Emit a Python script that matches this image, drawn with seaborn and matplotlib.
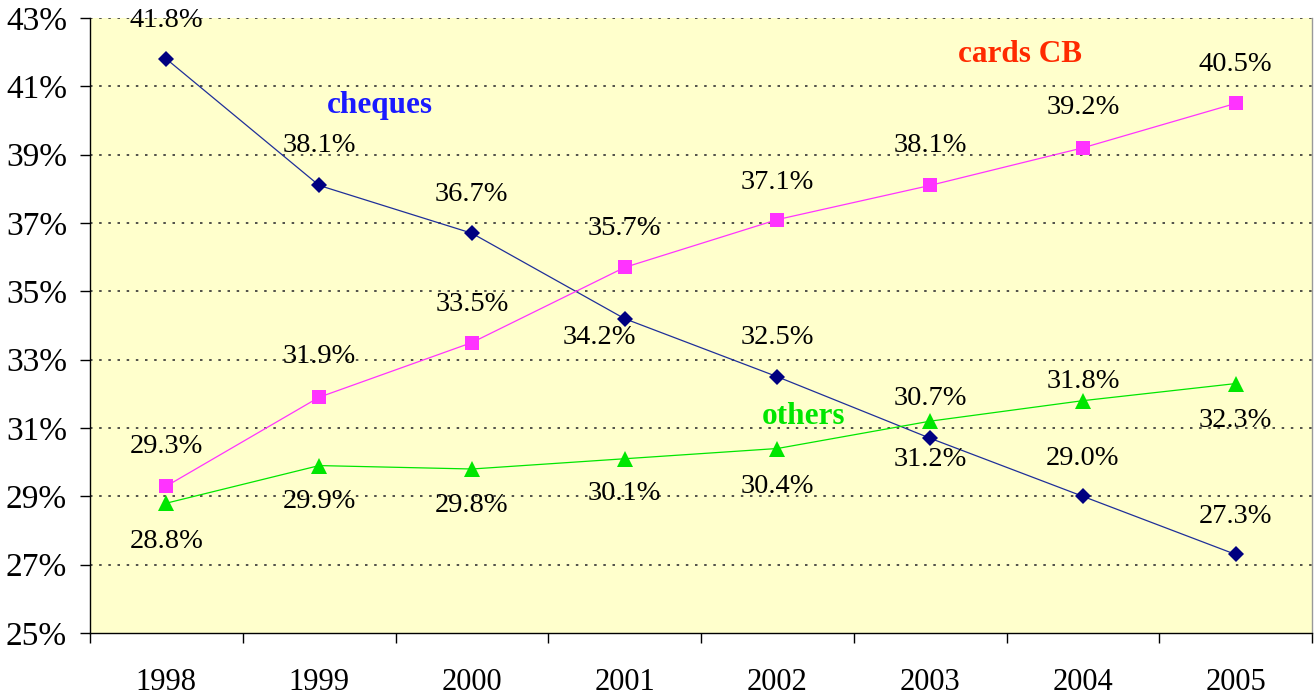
import matplotlib
matplotlib.use("Agg")
import matplotlib.pyplot as plt
import seaborn as sns
import pandas as pd
import numpy as np
from matplotlib.ticker import FixedLocator, NullFormatter

years = ["1998", "1999", "2000", "2001", "2002", "2003", "2004", "2005"]
cheques = [41.8, 38.1, 36.7, 34.2, 32.5, 30.7, 29.0, 27.3]
cards_cb = [29.3, 31.9, 33.5, 35.7, 37.1, 38.1, 39.2, 40.5]
others = [28.8, 29.9, 29.8, 30.1, 30.4, 31.2, 31.8, 32.3]
y_ticks = [25, 27, 29, 31, 33, 35, 37, 39, 41, 43]

sns.set_theme(style="white")
plt.rcParams['font.family'] = ['Liberation Serif', 'DejaVu Serif']

fig = plt.figure(figsize=(13.15, 6.98), dpi=100)
ax = fig.add_axes([90/1315, 1-633/698, (1312-90)/1315, (633-18)/698])
ax.set_facecolor("#FFFFCC")

x = np.arange(len(years))
df = pd.DataFrame({"x": np.concatenate([x, x, x]),
                   "v": cheques + cards_cb + others,
                   "s": ["cheques"]*8 + ["cards CB"]*8 + ["others"]*8})

styles = {
    "cheques": dict(color="#000080", lcolor="#1F2F99", marker="D", ms=8),
    "cards CB": dict(color="#FF33FF", lcolor="#FF33FF", marker="s", ms=10),
    "others": dict(color="#00E600", lcolor="#00E600", marker="^", ms=11),
}
for name, st in styles.items():
    sub = df[df.s == name]
    sns.lineplot(data=sub, x="x", y="v", ax=ax, color=st["lcolor"], linewidth=0.9,
                 marker=st["marker"], markersize=st["ms"], markeredgewidth=0,
                 markerfacecolor=st["color"], legend=False, zorder=3)

# data labels (offsets in pixels)
off_cheques = [(0, 39), (0, 40), (0, 39), (-25, -19), (0, 39), (0, 40), (0, 38), (0, 38)]
off_cards = [(0, 40), (0, 41), (0, 38), (0, 39), (0, 37), (0, 40), (0, 40), (0, 39)]
off_others = [(0, -38), (0, -36), (0, -37), (0, -35), (0, -38), (0, -38), (0, 19), (0, -37)]
for vals, offs in [(cheques, off_cheques), (cards_cb, off_cards), (others, off_others)]:
    for i, (v, o) in enumerate(zip(vals, offs)):
        ax.annotate(f"{v:.1f}%", (i, v), xytext=o, textcoords="offset pixels",
                    ha="center", va="center", fontsize=20.5, color="black", zorder=4)

ax.text(1.40, 40.45, "cheques", color="#1A1AFF", fontsize=22.5, fontweight="bold",
        ha="center", va="center")
ax.text(5.59, 41.92, "cards CB", color="#FF2A00", fontsize=22.5, fontweight="bold",
        ha="center", va="center")
ax.text(4.17, 31.35, "others", color="#00E600", fontsize=22.5, fontweight="bold",
        ha="center", va="center")

ax.set_xlim(-0.5, len(years) - 0.5)
ax.set_ylim(25, 43)
ax.set_yticks(y_ticks)
ax.set_yticklabels([f"{t}%" for t in y_ticks])
ax.xaxis.set_major_locator(FixedLocator(list(x)))
ax.set_xticklabels(years)
ax.xaxis.set_minor_locator(FixedLocator(list(np.arange(-0.5, len(years), 1.0))))
ax.xaxis.set_minor_formatter(NullFormatter())
ax.tick_params(axis="x", which="major", length=0, pad=25, labelsize=22, colors="black")
ax.tick_params(axis="x", which="minor", length=7.5, width=1, color="black", bottom=True)
ax.tick_params(axis="y", which="major", length=7.5, width=1, color="black", left=True,
               pad=9, labelsize=24, labelcolor="black")

for t in y_ticks[1:]:
    ax.axhline(t, color="#333333", linestyle=(0, (1.5, 4)), linewidth=1.2, zorder=1)

ax.set_xlabel("")
ax.set_ylabel("")
ax.spines["top"].set_visible(False)
ax.spines["right"].set_color("#999999")
ax.spines["right"].set_linewidth(1)
ax.spines["left"].set_color("black")
ax.spines["bottom"].set_color("black")
ax.spines["left"].set_linewidth(1)
ax.spines["bottom"].set_linewidth(1)

fig.savefig("out.png", dpi=100, facecolor="white")
